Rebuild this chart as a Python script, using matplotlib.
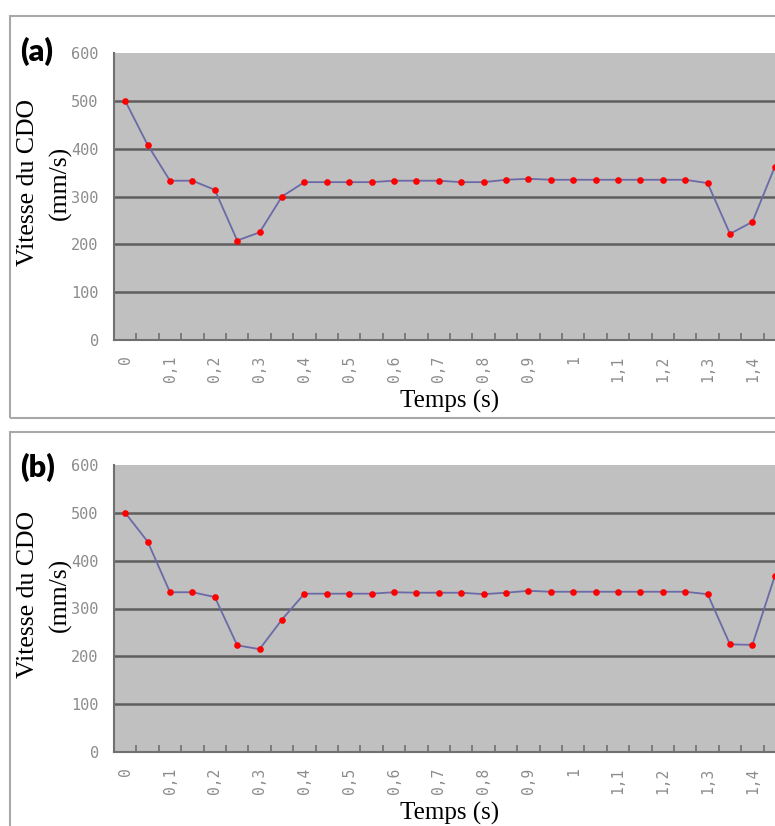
import numpy as np
import matplotlib
matplotlib.use('Agg')
import matplotlib.pyplot as plt
from matplotlib.patches import Rectangle
from matplotlib.ticker import FixedLocator, NullFormatter

# time categories (s)
temps = [0.00, 0.05, 0.10, 0.15, 0.20, 0.25, 0.30, 0.35, 0.40, 0.45,
         0.50, 0.55, 0.60, 0.65, 0.70, 0.75, 0.80, 0.85, 0.90, 0.95,
         1.00, 1.05, 1.10, 1.15, 1.20, 1.25, 1.30, 1.35, 1.40, 1.45]

# speed of the CDO (mm/s), panel (a)
vitesse_a = [500, 408, 333, 333, 314, 208, 225, 300, 330, 330,
             330, 330, 333, 333, 333, 330, 330, 335, 337, 335,
             335, 335, 335, 335, 335, 335, 328, 222, 247, 362]

# panel (b)
vitesse_b = [500, 440, 334, 334, 324, 223, 215, 277, 331, 331,
             331, 331, 334, 333, 333, 333, 330, 333, 337, 335,
             335, 335, 335, 335, 335, 335, 330, 225, 224, 368]

xtick_pos = [0.0, 0.1, 0.2, 0.3, 0.4, 0.5, 0.6, 0.7, 0.8, 0.9, 1.0, 1.1, 1.2, 1.3, 1.4]
xtick_labels = ['0', '0,1', '0,2', '0,3', '0,4', '0,5', '0,6', '0,7', '0,8', '0,9',
                '1', '1,1', '1,2', '1,3', '1,4']
ytick_pos = [0, 100, 200, 300, 400, 500, 600]

W, H = 775, 826
fig = plt.figure(figsize=(W / 100, H / 100), dpi=100)
fig.patch.set_facecolor('white')


def px_axes(left, top, right, bottom):
    return fig.add_axes([left / W, 1 - bottom / H, (right - left) / W, (bottom - top) / H])


def draw_panel(top_frame, bottom_frame, plot_top, plot_bottom, values, tag):
    # panel frame
    fig.patches.append(Rectangle((10 / W, 1 - bottom_frame / H), (800 - 10) / W,
                                 (bottom_frame - top_frame) / H,
                                 transform=fig.transFigure, fill=False,
                                 edgecolor='#a8a8a8', lw=1.5))
    ax = px_axes(114, plot_top, 786, plot_bottom)
    ax.set_facecolor('#c0c0c0')
    ax.set_xlim(-0.025, 1.475)
    ax.set_ylim(0, 600)
    for y in ytick_pos[1:-1]:
        ax.axhline(y, color='#5e5e5e', lw=1.8, zorder=1)
    ax.plot(temps, values, color='#6a6aa8', lw=1.3, zorder=2)
    ax.plot(temps, values, ls='none', marker='o', ms=4.8, color='#ff0000',
            markeredgewidth=0, zorder=3)
    for s in ['top', 'right']:
        ax.spines[s].set_visible(False)
    for s in ['left', 'bottom']:
        ax.spines[s].set_color('#707070')
        ax.spines[s].set_linewidth(1.5)
    ax.set_yticks(ytick_pos)
    ax.set_yticklabels([str(v) for v in ytick_pos])
    ax.tick_params(axis='y', length=0, pad=11, labelsize=11, labelcolor='#8c8c8c')
    ax.xaxis.set_major_locator(FixedLocator(xtick_pos))
    ax.set_xticklabels(xtick_labels, rotation=90, va='top')
    ax.tick_params(axis='x', which='major', length=0, pad=11, labelsize=10.5,
                   labelcolor='#8c8c8c')
    ax.xaxis.set_minor_locator(FixedLocator([t + 0.025 for t in temps[:-1]]))
    ax.xaxis.set_minor_formatter(NullFormatter())
    ax.tick_params(axis='x', which='minor', direction='in', length=5, width=1.2,
                   color='#707070')
    for lab in ax.get_xticklabels() + ax.get_yticklabels():
        lab.set_family('DejaVu Sans Mono')
    ax.set_xlabel('Temps (s)', family='Liberation Serif', fontsize=18, labelpad=6)
    mid = (plot_top + plot_bottom) / 2 - 14
    fig.text(28 / W, 1 - mid / H, 'Vitesse du CDO', rotation=90, family='Liberation Serif',
             fontsize=18.5, ha='center', va='center')
    fig.text(60 / W, 1 - mid / H, '(mm/s)', rotation=90, family='Liberation Serif',
             fontsize=18.5, ha='center', va='center')
    fig.text(20 / W, 1 - (top_frame + 35) / H, tag, family='Lato', weight='heavy',
             fontsize=22, ha='left', va='center')
    return ax


draw_panel(16, 418, 53, 340, vitesse_a, '(a)')
draw_panel(432, 840, 465, 752, vitesse_b, '(b)')

fig.savefig('out.png', dpi=100, facecolor='white')
